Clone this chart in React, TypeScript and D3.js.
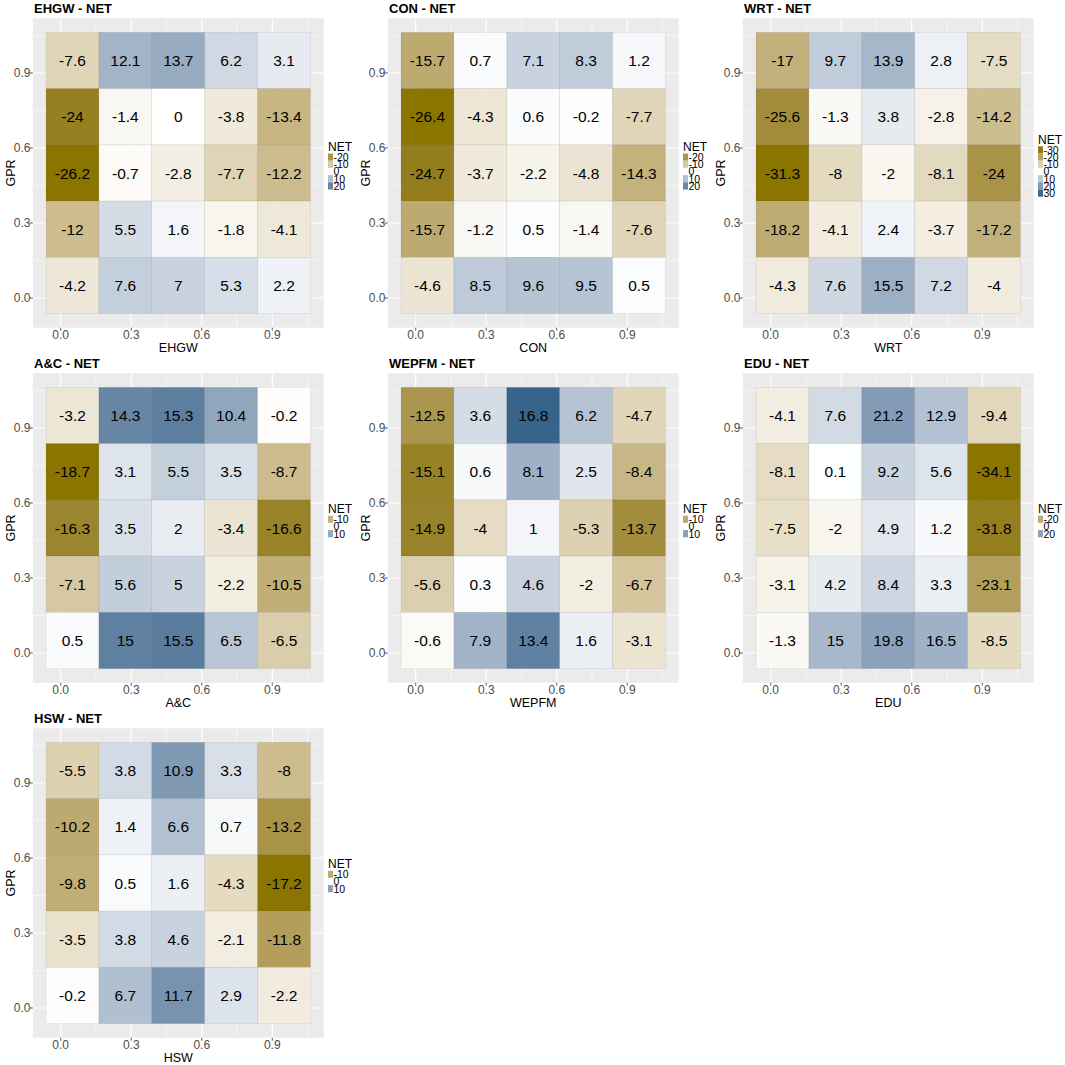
import React, { useEffect, useRef } from "react";
import * as d3 from "d3";

// GPR rows (top to bottom) and variable columns (left to right)
const gprLevels = [0.95, 0.725, 0.5, 0.275, 0.05];
const varLevels = [0.05, 0.275, 0.5, 0.725, 0.95];
const axisTicks = [0, 0.3, 0.6, 0.9];
const minorTicks = [0.15, 0.45, 0.75, 1.05];

const ehgwNet = [
  [-7.6, 12.1, 13.7, 6.2, 3.1],
  [-24, -1.4, 0, -3.8, -13.4],
  [-26.2, -0.7, -2.8, -7.7, -12.2],
  [-12, 5.5, 1.6, -1.8, -4.1],
  [-4.2, 7.6, 7, 5.3, 2.2],
];
const conNet = [
  [-15.7, 0.7, 7.1, 8.3, 1.2],
  [-26.4, -4.3, 0.6, -0.2, -7.7],
  [-24.7, -3.7, -2.2, -4.8, -14.3],
  [-15.7, -1.2, 0.5, -1.4, -7.6],
  [-4.6, 8.5, 9.6, 9.5, 0.5],
];
const wrtNet = [
  [-17, 9.7, 13.9, 2.8, -7.5],
  [-25.6, -1.3, 3.8, -2.8, -14.2],
  [-31.3, -8, -2, -8.1, -24],
  [-18.2, -4.1, 2.4, -3.7, -17.2],
  [-4.3, 7.6, 15.5, 7.2, -4],
];
const acNet = [
  [-3.2, 14.3, 15.3, 10.4, -0.2],
  [-18.7, 3.1, 5.5, 3.5, -8.7],
  [-16.3, 3.5, 2, -3.4, -16.6],
  [-7.1, 5.6, 5, -2.2, -10.5],
  [0.5, 15, 15.5, 6.5, -6.5],
];
const wepfmNet = [
  [-12.5, 3.6, 16.8, 6.2, -4.7],
  [-15.1, 0.6, 8.1, 2.5, -8.4],
  [-14.9, -4, 1, -5.3, -13.7],
  [-5.6, 0.3, 4.6, -2, -6.7],
  [-0.6, 7.9, 13.4, 1.6, -3.1],
];
const eduNet = [
  [-4.1, 7.6, 21.2, 12.9, -9.4],
  [-8.1, 0.1, 9.2, 5.6, -34.1],
  [-7.5, -2, 4.9, 1.2, -31.8],
  [-3.1, 4.2, 8.4, 3.3, -23.1],
  [-1.3, 15, 19.8, 16.5, -8.5],
];
const hswNet = [
  [-5.5, 3.8, 10.9, 3.3, -8],
  [-10.2, 1.4, 6.6, 0.7, -13.2],
  [-9.8, 0.5, 1.6, -4.3, -17.2],
  [-3.5, 3.8, 4.6, -2.1, -11.8],
  [-0.2, 6.7, 11.7, 2.9, -2.2],
];

const panelNames = ["EHGW", "CON", "WRT", "A&C", "WEPFM", "EDU", "HSW"];
const panelValues = [ehgwNet, conNet, wrtNet, acNet, wepfmNet, eduNet, hswNet];
const legendBreaks = [
  [-20, -10, 0, 10, 20],
  [-20, -10, 0, 10, 20],
  [-30, -20, -10, 0, 10, 20, 30],
  [-10, 0, 10],
  [-10, 0, 10],
  [-20, 0, 20],
  [-10, 0, 10],
];

const lowCol = "#8B7500";
const highCol = "#36648B";
const font = "'Liberation Sans', Arial, sans-serif";

const App = () => {
  const svgRef = useRef(null);

  useEffect(() => {
    const svg = d3.select(svgRef.current);
    svg.selectAll("*").remove();

    const panelSize = 355;
    const halfW = 0.1125;
    const dom = [-0.11875, 1.11875];

    panelNames.forEach((name, i) => {
      const ox = (i % 3) * panelSize;
      const oy = Math.floor(i / 3) * panelSize;
      const values = panelValues[i];
      const g = svg.append("g").attr("transform", `translate(${ox},${oy})`);

      const x = d3.scaleLinear().domain(dom).range([32.8, 323.7]);
      const y = d3.scaleLinear().domain(dom).range([327.7, 18.3]);

      const m = d3.max(values.flat(), (d) => Math.abs(d));
      const color = d3
        .scaleLinear()
        .domain([-m, 0, m])
        .range([lowCol, "#ffffff", highCol])
        .interpolate(d3.interpolateLab)
        .clamp(true);

      // panel background + grid
      g.append("rect")
        .attr("x", x(dom[0]))
        .attr("y", y(dom[1]))
        .attr("width", x(dom[1]) - x(dom[0]))
        .attr("height", y(dom[0]) - y(dom[1]))
        .attr("fill", "#EBEBEB");

      minorTicks.forEach((t) => {
        g.append("line")
          .attr("x1", x(t)).attr("x2", x(t))
          .attr("y1", y(dom[0])).attr("y2", y(dom[1]))
          .attr("stroke", "#fff").attr("stroke-width", 0.5);
        g.append("line")
          .attr("y1", y(t)).attr("y2", y(t))
          .attr("x1", x(dom[0])).attr("x2", x(dom[1]))
          .attr("stroke", "#fff").attr("stroke-width", 0.5);
      });
      axisTicks.forEach((t) => {
        g.append("line")
          .attr("x1", x(t)).attr("x2", x(t))
          .attr("y1", y(dom[0])).attr("y2", y(dom[1]))
          .attr("stroke", "#fff").attr("stroke-width", 1.1);
        g.append("line")
          .attr("y1", y(t)).attr("y2", y(t))
          .attr("x1", x(dom[0])).attr("x2", x(dom[1]))
          .attr("stroke", "#fff").attr("stroke-width", 1.1);
      });

      // tiles
      const cells = [];
      values.forEach((row, r) =>
        row.forEach((v, c) => cells.push({ gx: varLevels[c], gy: gprLevels[r], v }))
      );

      g.selectAll("rect.tile")
        .data(cells)
        .join("rect")
        .attr("class", "tile")
        .attr("x", (d) => x(d.gx - halfW))
        .attr("y", (d) => y(d.gy + halfW))
        .attr("width", (d) => x(d.gx + halfW) - x(d.gx - halfW))
        .attr("height", (d) => y(d.gy - halfW) - y(d.gy + halfW))
        .attr("fill", (d) => color(d.v))
        .attr("stroke", "rgba(0,0,0,0.08)")
        .attr("stroke-width", 0.8);

      g.selectAll("text.lab")
        .data(cells)
        .join("text")
        .attr("class", "lab")
        .attr("x", (d) => x(d.gx))
        .attr("y", (d) => y(d.gy) + 5.5)
        .attr("text-anchor", "middle")
        .attr("font-family", font)
        .attr("font-size", 15.5)
        .attr("fill", "#000")
        .text((d) => String(d.v));

      // axes
      axisTicks.forEach((t) => {
        g.append("line")
          .attr("x1", x(t)).attr("x2", x(t))
          .attr("y1", y(dom[0])).attr("y2", y(dom[0]) + 3)
          .attr("stroke", "#333").attr("stroke-width", 0.8);
        g.append("text")
          .attr("x", x(t))
          .attr("y", 339)
          .attr("text-anchor", "middle")
          .attr("font-family", font)
          .attr("font-size", 12)
          .attr("fill", "#4D4D4D")
          .text(d3.format(".1f")(t));

        g.append("line")
          .attr("x1", x(dom[0]) - 3).attr("x2", x(dom[0]))
          .attr("y1", y(t)).attr("y2", y(t))
          .attr("stroke", "#333").attr("stroke-width", 0.8);
        g.append("text")
          .attr("x", 30.5)
          .attr("y", y(t) + 4.2)
          .attr("text-anchor", "end")
          .attr("font-family", font)
          .attr("font-size", 12)
          .attr("fill", "#4D4D4D")
          .text(d3.format(".1f")(t));
      });

      g.append("text")
        .attr("x", (x(dom[0]) + x(dom[1])) / 2)
        .attr("y", 352)
        .attr("text-anchor", "middle")
        .attr("font-family", font)
        .attr("font-size", 12.5)
        .attr("fill", "#000")
        .text(name);

      g.append("text")
        .attr("transform", `translate(15,${(y(dom[0]) + y(dom[1])) / 2}) rotate(-90)`)
        .attr("text-anchor", "middle")
        .attr("font-family", font)
        .attr("font-size", 12.5)
        .attr("fill", "#000")
        .text("GPR");

      g.append("text")
        .attr("x", 34)
        .attr("y", 12.5)
        .attr("font-family", font)
        .attr("font-size", 13)
        .attr("font-weight", "bold")
        .attr("fill", "#000")
        .text(`${name} - NET`);

      // legend
      const breaks = legendBreaks[i];
      const keyH = 7.2;
      const lx = 328;
      const top = 166 - (11 + breaks.length * keyH) / 2;
      g.append("text")
        .attr("x", lx)
        .attr("y", top + 8.5)
        .attr("font-family", font)
        .attr("font-size", 12)
        .attr("fill", "#000")
        .text("NET");
      breaks.forEach((b, k) => {
        const ky = top + 11 + k * keyH;
        g.append("rect")
          .attr("x", lx)
          .attr("y", ky)
          .attr("width", 5)
          .attr("height", keyH)
          .attr("fill", color(b));
        g.append("text")
          .attr("x", lx + 5.5)
          .attr("y", ky + keyH / 2 + 3.8)
          .attr("font-family", font)
          .attr("font-size", 10.5)
          .attr("fill", "#000")
          .text(String(b));
      });
    });
  }, []);

  return (
    <div>
      <svg
        ref={svgRef}
        width={1065}
        height={1065}
        style={{ position: "absolute", left: 0, top: 0, background: "#fff" }}
      ></svg>
    </div>
  );
};

export default App;
